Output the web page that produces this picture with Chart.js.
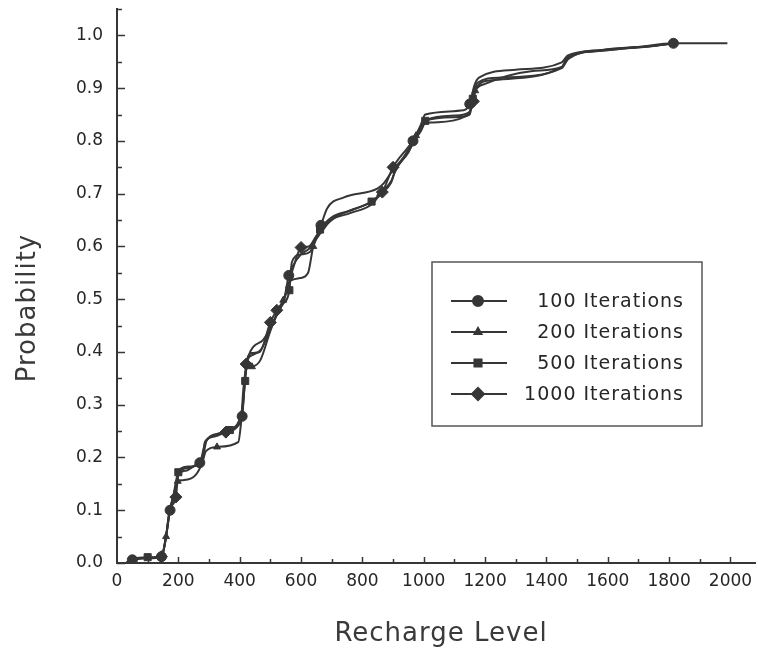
<!DOCTYPE html>
<html>
<head>
<meta charset="utf-8">
<script src="https://cdn.jsdelivr.net/npm/chart.js@4/dist/chart.umd.min.js"></script>
<style>
  html, body { margin: 0; padding: 0; background: #ffffff; }
  #wrap { width: 758px; height: 655px; }
</style>
</head>
<body>
<div id="wrap"><canvas id="c" width="758" height="655"></canvas></div>
<script>
// Cumulative probability of recharge level, Monte Carlo runs of different length
const seriesNames = ['100 Iterations', '200 Iterations', '500 Iterations', '1000 Iterations'];
const xTitle = 'Recharge Level';
const yTitle = 'Probability';

// [recharge level, cumulative probability]
const iter100 = [[30,0],[50,0.006],[100,0.01],[145,0.012],[160,0.05],[173,0.1],[185,0.125],[198,0.165],[205,0.178],[240,0.183],[270,0.19],[288,0.228],[320,0.243],[360,0.25],[395,0.262],[408,0.278],[416,0.345],[428,0.39],[445,0.41],[475,0.422],[500,0.445],[522,0.472],[545,0.5],[560,0.545],[575,0.565],[600,0.585],[625,0.595],[645,0.61],[665,0.64],[685,0.672],[740,0.693],[850,0.71],[870,0.72],[900,0.745],[935,0.77],[965,0.8],[990,0.83],[1005,0.85],[1130,0.858],[1150,0.87],[1165,0.905],[1180,0.92],[1300,0.935],[1450,0.949],[1470,0.962],[1560,0.97],[1700,0.978],[1814,0.985],[1990,0.985]];
const iter200 = [[30,0],[50,0.005],[100,0.009],[145,0.011],[160,0.05],[170,0.095],[185,0.13],[198,0.155],[215,0.157],[255,0.166],[278,0.19],[290,0.212],[326,0.22],[395,0.229],[405,0.27],[412,0.33],[422,0.368],[440,0.372],[467,0.384],[500,0.44],[520,0.47],[542,0.498],[556,0.52],[566,0.535],[597,0.54],[623,0.55],[640,0.6],[670,0.63],[700,0.65],[760,0.663],[835,0.682],[858,0.7],[895,0.725],[910,0.748],[950,0.778],[975,0.81],[1000,0.833],[1031,0.835],[1130,0.845],[1150,0.855],[1168,0.895],[1200,0.908],[1350,0.932],[1450,0.94],[1475,0.958],[1600,0.972],[1750,0.98],[1814,0.985]];
const iter500 = [[30,0],[50,0.007],[100,0.011],[145,0.012],[158,0.045],[170,0.09],[183,0.125],[200,0.172],[230,0.18],[265,0.188],[280,0.2],[292,0.232],[330,0.245],[368,0.252],[398,0.27],[410,0.3],[418,0.345],[425,0.385],[445,0.395],[470,0.405],[498,0.44],[518,0.468],[540,0.49],[562,0.517],[570,0.57],[600,0.585],[630,0.59],[640,0.605],[662,0.632],[700,0.655],[760,0.668],[830,0.685],[860,0.7],[893,0.72],[905,0.74],[950,0.78],[980,0.81],[1005,0.838],[1100,0.845],[1150,0.85],[1160,0.88],[1175,0.91],[1250,0.92],[1450,0.938],[1470,0.955],[1580,0.972],[1740,0.98],[1814,0.985]];
const iter1000 = [[30,0],[50,0.006],[100,0.01],[145,0.012],[160,0.05],[172,0.1],[192,0.125],[200,0.168],[225,0.175],[262,0.187],[277,0.192],[287,0.23],[320,0.24],[355,0.248],[395,0.26],[410,0.29],[421,0.377],[440,0.398],[465,0.4],[500,0.456],[521,0.479],[545,0.5],[560,0.53],[575,0.56],[600,0.598],[625,0.6],[650,0.62],[672,0.636],[710,0.655],[770,0.67],[840,0.688],[865,0.703],[900,0.75],[945,0.785],[966,0.8],[990,0.818],[1010,0.84],[1100,0.848],[1150,0.855],[1162,0.875],[1170,0.9],[1220,0.915],[1450,0.94],[1468,0.958],[1590,0.973],[1745,0.98],[1814,0.985]];

// recharge levels at which each run's symbol is plotted
const marks100 = [50, 145, 173, 270, 408, 560, 665, 965, 1150, 1814];
const marks200 = [160, 198, 326, 440, 542, 640, 858, 975, 1168];
const marks500 = [100, 200, 368, 418, 562, 662, 830, 1005, 1160];
const marks1000 = [145, 192, 355, 421, 500, 521, 600, 865, 900, 1162];

const xTickValues = [0, 200, 400, 600, 800, 1000, 1200, 1400, 1600, 1800, 2000];
const yTickValues = [0, 0.1, 0.2, 0.3, 0.4, 0.5, 0.6, 0.7, 0.8, 0.9, 1.0];

const INK = '#363636';
const TEXT = '#262626';
const FONT = '"DejaVu Sans", sans-serif';

function toPoints(pairs) { return pairs.map(p => ({ x: p[0], y: p[1] })); }

function makeSeries(label, pairs, marks, style, radius) {
  return {
    label: label,
    data: toPoints(pairs),
    borderColor: INK,
    backgroundColor: INK,
    borderWidth: 2,
    pointStyle: style,
    pointRadius: ctx => (ctx.raw && marks.includes(ctx.raw.x)) ? radius : 0,
    pointHoverRadius: 0,
    pointBorderWidth: 1,
    pointBorderColor: INK,
    pointBackgroundColor: INK,
    cubicInterpolationMode: 'monotone',
    fill: false,
    legendRadius: radius
  };
}

// the plot box is fixed; no extra room for edge labels
function noEdgePadding(s) {
  s.paddingTop = 0; s.paddingBottom = 0; s.paddingLeft = 0; s.paddingRight = 0;
}

// inward tick marks on both axes
const inwardTicks = {
  id: 'inwardTicks',
  afterDraw(chart) {
    const { ctx, scales: { x, y } } = chart;
    ctx.save();
    ctx.strokeStyle = INK;
    ctx.lineWidth = 1.5;
    for (let i = 0; i <= 21; i++) {
      const v = i * 0.05;
      const py = Math.round(y.getPixelForValue(v)) + 0.5;
      const len = (i % 2 === 0) ? 8 : 5;
      ctx.beginPath(); ctx.moveTo(x.left, py); ctx.lineTo(x.left + len, py); ctx.stroke();
    }
    for (let v = 100; v <= 2000; v += 100) {
      const px = Math.round(x.getPixelForValue(v)) + 0.5;
      const len = (v % 200 === 0) ? 6 : 4;
      ctx.beginPath(); ctx.moveTo(px, y.bottom); ctx.lineTo(px, y.bottom - len); ctx.stroke();
    }
    ctx.restore();
  }
};

// axis titles, set with a little letter spacing
const axisTitles = {
  id: 'axisTitles',
  afterDraw(chart) {
    const { ctx } = chart;
    ctx.save();
    ctx.fillStyle = '#3a3a3a';
    ctx.font = '26px ' + FONT;
    ctx.letterSpacing = '1px';
    ctx.textAlign = 'center';
    ctx.textBaseline = 'middle';
    ctx.fillText(xTitle, 441, 634);
    ctx.translate(28, 308);
    ctx.rotate(-Math.PI / 2);
    ctx.fillText(yTitle, 0, 0);
    ctx.restore();
  }
};

// boxed legend inside the plot area
const boxedLegend = {
  id: 'boxedLegend',
  afterDraw(chart) {
    const { ctx } = chart;
    const box = { l: 432, t: 262, r: 702, b: 426 };
    ctx.save();
    ctx.strokeStyle = '#555';
    ctx.lineWidth = 1.5;
    ctx.strokeRect(box.l, box.t, box.r - box.l, box.b - box.t);
    ctx.font = '19px ' + FONT;
    ctx.letterSpacing = '1px';
    ctx.textAlign = 'right';
    ctx.textBaseline = 'middle';
    chart.data.datasets.forEach((ds, i) => {
      const cy = 301 + i * 31;
      ctx.strokeStyle = INK;
      ctx.lineWidth = 2;
      ctx.beginPath(); ctx.moveTo(451, cy); ctx.lineTo(507, cy); ctx.stroke();
      ctx.fillStyle = INK;
      Chart.helpers.drawPoint(ctx, { pointStyle: ds.pointStyle, radius: ds.legendRadius, rotation: 0, borderWidth: 1 }, 478, cy);
      ctx.fillStyle = TEXT;
      ctx.fillText(ds.label, 684, cy + 1);
    });
    ctx.restore();
  }
};

new Chart(document.getElementById('c'), {
  type: 'line',
  data: {
    datasets: [
      makeSeries(seriesNames[0], iter100, marks100, 'circle', 5),
      makeSeries(seriesNames[1], iter200, marks200, 'triangle', 4),
      makeSeries(seriesNames[2], iter500, marks500, 'rect', 5),
      makeSeries(seriesNames[3], iter1000, marks1000, 'rectRot', 6)
    ]
  },
  options: {
    responsive: false,
    animation: false,
    devicePixelRatio: 1,
    layout: { padding: { top: 9, right: 3, left: 0, bottom: 0 } },
    plugins: { legend: { display: false }, tooltip: { enabled: false } },
    scales: {
      x: {
        type: 'linear',
        min: 0,
        max: 2080,
        afterFit: s => { s.height = 92; noEdgePadding(s); },
        afterBuildTicks: s => { s.ticks = xTickValues.map(v => ({ value: v })); },
        grid: { display: false, drawTicks: false },
        border: { display: true, color: INK, width: 2 },
        ticks: {
          padding: 8,
          color: TEXT,
          font: { family: FONT, size: 17 },
          maxRotation: 0,
          autoSkip: false,
          callback: v => String(v)
        },
        title: { display: false, text: xTitle }
      },
      y: {
        type: 'linear',
        min: 0,
        max: 1.05,
        afterFit: s => { s.width = 117; noEdgePadding(s); },
        afterBuildTicks: s => { s.ticks = yTickValues.map(v => ({ value: v })); },
        grid: { display: false, drawTicks: false },
        border: { display: true, color: INK, width: 2 },
        ticks: {
          padding: 14,
          color: TEXT,
          font: { family: FONT, size: 17 },
          autoSkip: false,
          callback: v => v.toFixed(1)
        },
        title: { display: false, text: yTitle }
      }
    }
  },
  plugins: [inwardTicks, axisTitles, boxedLegend]
});
</script>
</body>
</html>
